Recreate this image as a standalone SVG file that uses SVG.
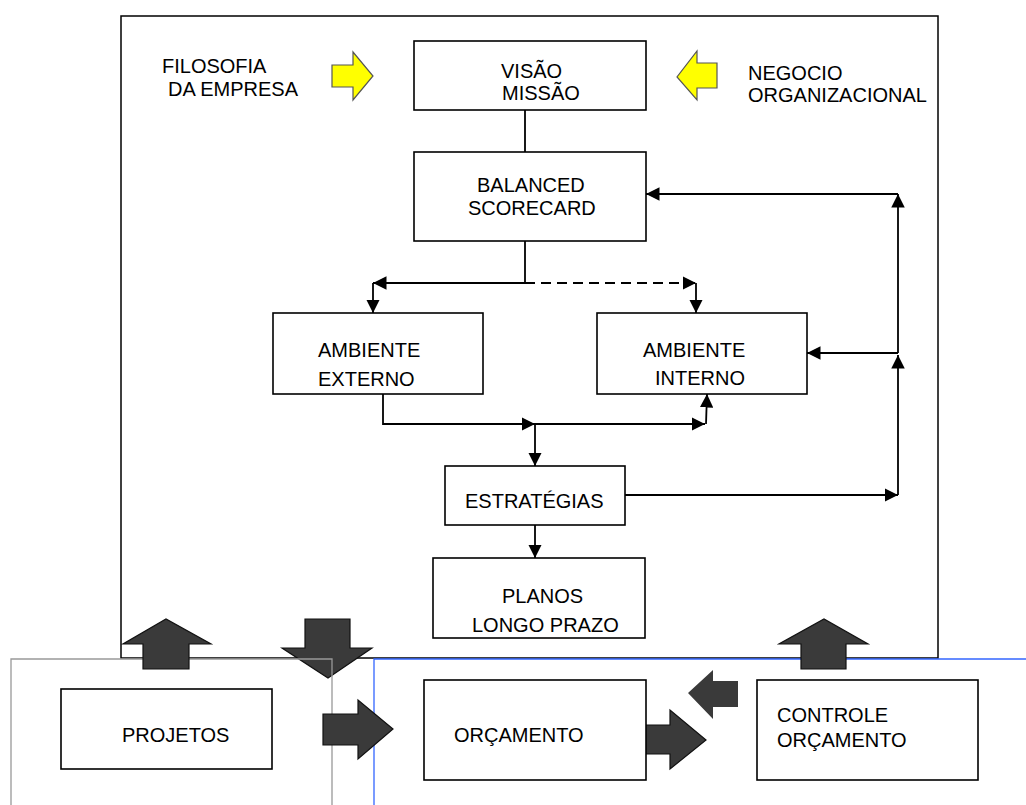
<svg xmlns="http://www.w3.org/2000/svg" width="1026" height="805" viewBox="0 0 1026 805">
<defs>
<style>
.box{fill:#fff;stroke:#000;stroke-width:1.6}
.t{font-family:"Liberation Sans",Arial,sans-serif;font-size:20px;fill:#000}
.ln{fill:none;stroke:#000;stroke-width:1.8}
.dash{stroke-dasharray:10 6}
.yel{fill:#ffff00;stroke:#555;stroke-width:1.2}
.dk{fill:#3a3a3a;stroke:#111;stroke-width:1.2}
.dkb{fill:#3a3a3a}
</style>
<marker id="ah" viewBox="0 0 10 10" refX="10" refY="5" markerWidth="7.5" markerHeight="7.5" markerUnits="strokeWidth" orient="auto">
<path d="M0,0 L10,5 L0,10 Z" fill="#000"/>
</marker>
</defs>
<rect width="1026" height="805" fill="#fff"/>

<g id="frame">
<rect x="121" y="16" width="817" height="642" fill="none" stroke="#000" stroke-width="1.5"/>
</g>

<g id="labels">
<text class="t" x="162" y="73">FILOSOFIA</text>
<text class="t" x="168" y="96">DA EMPRESA</text>
<text class="t" x="748" y="80">NEGOCIO</text>
<text class="t" x="748" y="102">ORGANIZACIONAL</text>
</g>

<g id="yellow-arrows">
<path class="yel" d="M332,65 L353,65 L353,52 L373,76 L353,100 L353,87 L332,87 Z"/>
<path class="yel" d="M717,63 L697,63 L697,51 L677,77 L697,100 L697,88 L717,88 Z"/>
</g>

<g id="visao">
<rect class="box" x="414" y="41" width="232" height="69"/>
<text class="t" x="501" y="78">VISÃO</text>
<text class="t" x="502" y="100">MISSÃO</text>
</g>

<g id="balanced">
<rect class="box" x="414" y="152" width="232" height="89"/>
<text class="t" x="477" y="192">BALANCED</text>
<text class="t" x="468" y="215">SCORECARD</text>
</g>

<g id="ambiente-externo">
<rect class="box" x="273" y="313" width="210" height="81"/>
<text class="t" x="318" y="357">AMBIENTE</text>
<text class="t" x="318" y="386">EXTERNO</text>
</g>

<g id="ambiente-interno">
<rect class="box" x="597" y="313" width="210" height="81"/>
<text class="t" x="643" y="357">AMBIENTE</text>
<text class="t" x="655" y="385">INTERNO</text>
</g>

<g id="estrategias">
<rect class="box" x="445" y="466" width="180" height="59"/>
<text class="t" x="465" y="508">ESTRATÉGIAS</text>
</g>

<g id="planos">
<rect class="box" x="433" y="558" width="212" height="80"/>
<text class="t" x="502" y="603">PLANOS</text>
<text class="t" x="472" y="632">LONGO PRAZO</text>
</g>

<g id="connectors">
<path class="ln" d="M525,110 L525,152"/>
<path class="ln" d="M525,241 L525,283"/>
<path class="ln" d="M525,283 L373,283" marker-end="url(#ah)"/>
<path class="ln" d="M373,283 L373,313" marker-end="url(#ah)"/>
<path class="ln dash" d="M525,283 L696,283" marker-end="url(#ah)"/>
<path class="ln" d="M696,283 L696,313" marker-end="url(#ah)"/>
<path class="ln" d="M383,394 L383,424 L535,424" marker-end="url(#ah)"/>
<path class="ln" d="M535,424 L705,424" marker-end="url(#ah)"/>
<path class="ln" d="M706,424 L707,394" marker-end="url(#ah)"/>
<path class="ln" d="M535,424 L535,466" marker-end="url(#ah)"/>
<path class="ln" d="M535,525 L535,558" marker-end="url(#ah)"/>
<path class="ln" d="M625,495 L898,495" marker-end="url(#ah)"/>
<path class="ln" d="M898,495 L898,355" marker-end="url(#ah)"/>
<path class="ln" d="M898,353 L807,353" marker-end="url(#ah)"/>
<path class="ln" d="M898,353 L898,194" marker-end="url(#ah)"/>
<path class="ln" d="M898,194 L646,194" marker-end="url(#ah)"/>
</g>

<g id="down-arrow">
<path class="dk" d="M305,619 L350,619 L350,648 L372,648 L328,678 L282,648 L305,648 Z"/>
</g>

<g id="bottom-frames">
<path d="M11,805 L11,659 L332,659 L332,805" fill="none" stroke="#999" stroke-width="1.3"/>
<path d="M374,805 L374,659 L1026,659" fill="none" stroke="#3366ff" stroke-width="1.3"/>
</g>

<g id="dark-arrows">
<path class="dk" d="M143,669 L143,644 L123,644 L166,619 L211,644 L189,644 L189,669 Z"/>
<path class="dk" d="M801,669 L801,644 L779,644 L824,619 L868,644 L846,644 L846,669 Z"/>
<path class="dk" d="M323,714 L358,714 L358,700 L393,729 L358,759 L358,745 L323,745 Z"/>
<path class="dk" d="M636,725 L670,725 L670,710 L706,740 L670,769 L670,754 L636,754 Z"/>
<path class="dkb" d="M738,681 L713,681 L713,670 L688,693 L713,719 L713,707 L738,707 Z"/>
</g>

<g id="projetos">
<rect class="box" x="61" y="689" width="211" height="80"/>
<text class="t" x="122" y="742">PROJETOS</text>
</g>

<g id="orcamento">
<rect class="box" x="424" y="680" width="222" height="100"/>
<text class="t" x="454" y="742">ORÇAMENTO</text>
</g>

<g id="controle">
<rect class="box" x="757" y="680" width="221" height="100"/>
<text class="t" x="777" y="722">CONTROLE</text>
<text class="t" x="777" y="747">ORÇAMENTO</text>
</g>
</svg>
